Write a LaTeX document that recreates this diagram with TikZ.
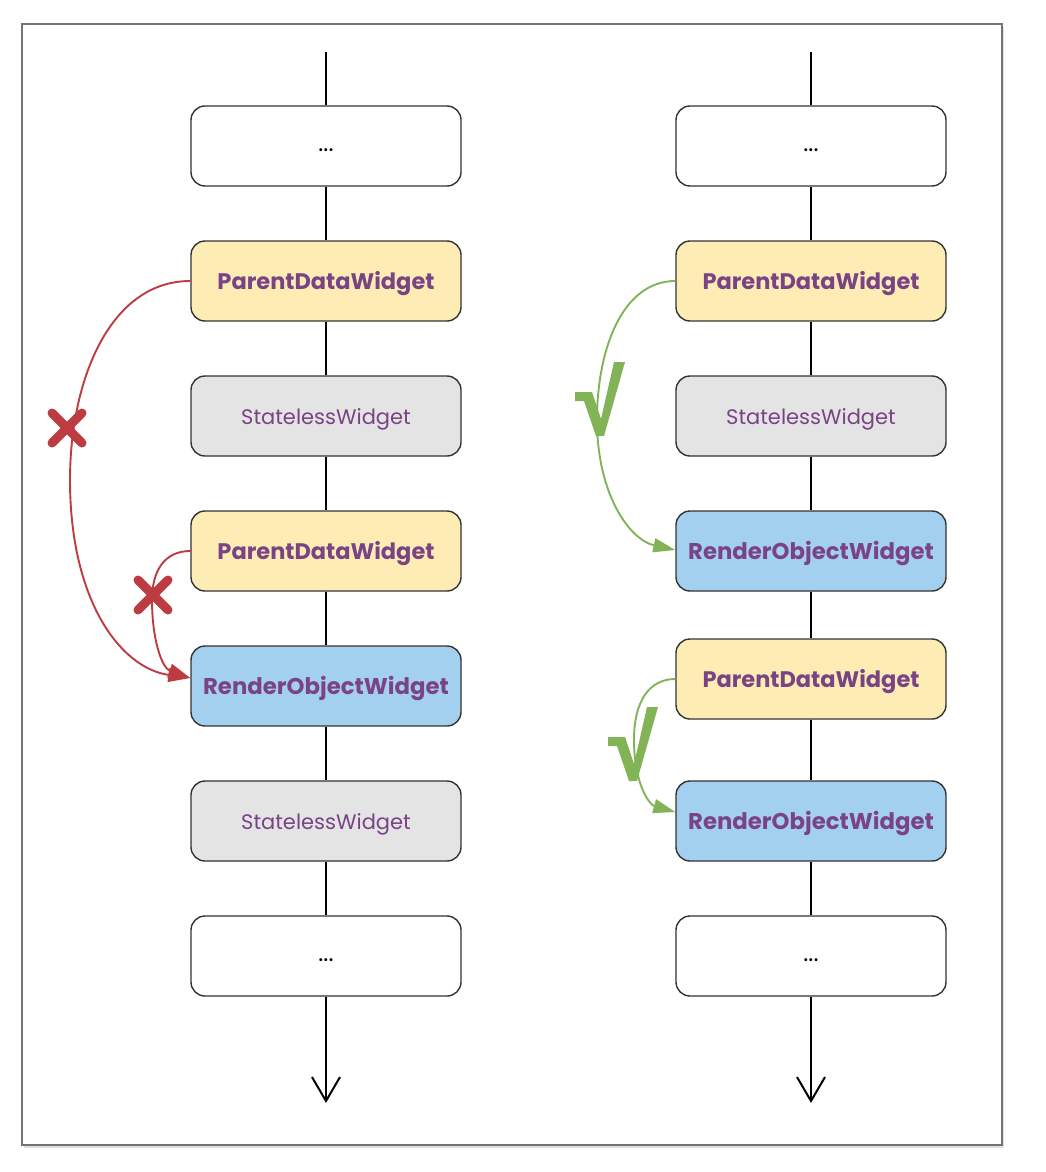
\documentclass[tikz,border=0pt]{standalone}
\usepackage{fontspec}
\setmainfont{Poppins}
\usetikzlibrary{arrows.meta,calc}
\definecolor{yel}{HTML}{FDECB4}
\definecolor{blu}{HTML}{A4D0EF}
\definecolor{gry}{HTML}{E4E4E4}
\definecolor{txt}{HTML}{7A4385}
\definecolor{redc}{HTML}{BD3C41}
\definecolor{grn}{HTML}{83B357}
\definecolor{edge}{HTML}{333333}
\begin{document}
\begin{tikzpicture}[x=1pt,y=-1pt,
  wbox/.style={draw=edge,line width=1.4pt,rounded corners=14pt,minimum width=270pt,minimum height=80pt,inner sep=0pt,text height=18pt,text depth=2pt,font=\fontsize{18}{20}\selectfont},
  pdw/.style={wbox,fill=yel,text=txt,font=\fontsize{22.5}{24}\selectfont\bfseries},
  sw/.style={wbox,fill=gry,text=txt,font=\fontsize{21}{24}\selectfont},
  row/.style={wbox,fill=blu,text=txt,font=\fontsize{22.8}{24}\selectfont\bfseries},
  dots/.style={wbox,fill=white,text height=10pt,text depth=0pt,font=\fontsize{24}{26}\selectfont},
  flow/.style={line width=2pt,black},
  bad/.style={line width=1.9pt,redc,-{Triangle[length=22pt,width=14pt]}},
  good/.style={line width=1.9pt,grn,-{Triangle[length=22pt,width=14pt]}},
  cross/.style={line width=9pt,redc,line cap=round},
  tick/.style={fill=grn}]
\useasboundingbox (0,0) rectangle (1046,1172);
% frame
\fill[black!12] (24,27) rectangle (1004,1148);
\draw[fill=white,draw=black!55,line width=1.2pt] (22,24) rectangle (1002,1145);
% left column
\coordinate (Lt) at (326,52);
\coordinate (Lb) at (326,1103);
\node[dots] (L1) at (326,146) {...};
\node[pdw]  (L2) at (326,281) {ParentDataWidget};
\node[sw]   (L3) at (326,416) {StatelessWidget};
\node[pdw]  (L4) at (326,551) {ParentDataWidget};
\node[row]  (L5) at (326,686) {RenderObjectWidget};
\node[sw]   (L6) at (326,821) {StatelessWidget};
\node[dots] (L7) at (326,956) {...};
% right column
\coordinate (Rt) at (811,52);
\coordinate (Rb) at (811,1103);
\node[dots] (R1) at (811,146) {...};
\node[pdw]  (R2) at (811,281) {ParentDataWidget};
\node[sw]   (R3) at (811,416) {StatelessWidget};
\node[row]  (R4) at (811,551) {RenderObjectWidget};
\node[pdw]  (R5) at (811,679) {ParentDataWidget};
\node[row]  (R6) at (811,821) {RenderObjectWidget};
\node[dots] (R7) at (811,956) {...};
% flow lines
\foreach \c in {L,R}{
  \draw[flow] (\c t) -- (\c 1);
  \draw[flow] (\c 1) -- (\c 2);
  \draw[flow] (\c 2) -- (\c 3);
  \draw[flow] (\c 3) -- (\c 4);
  \draw[flow] (\c 4) -- (\c 5);
  \draw[flow] (\c 5) -- (\c 6);
  \draw[flow] (\c 6) -- (\c 7);
  \draw[flow,-{Straight Barb[length=24pt,width=28pt,line width=2pt]}] (\c 7) -- (\c b);
}
% red curves
\draw[bad] (L2.west) .. controls (110,281) and (70,380) .. (70,480) .. controls (70,600) and (120,668) .. ($(L5.west)+(0,-8)$);
\draw[bad] (L4.west) .. controls (165,551) and (152,570) .. (152,600) .. controls (152,640) and (162,668) .. ($(L5.west)+(0,-8)$);
% green curves
\draw[good] (R2.west) .. controls (622,281) and (597,350) .. (597,420) .. controls (597,495) and (630,540) .. ($(R4.west)+(0,-1)$);
\draw[good] (R5.west) .. controls (650,679) and (634,700) .. (634,740) .. controls (634,785) and (650,805) .. ($(R6.west)+(0,-9)$);
% crosses
\draw[cross] (52,413) -- (82,443) (52,443) -- (82,413);
\draw[cross] (138,580) -- (168,610) (138,610) -- (168,580);
% ticks
\foreach \dx/\dy in {0/0,33/345}{
  \fill[tick,shift={(\dx,\dy)}] (575,392) -- (592,392) -- (601,419) -- (614,362) -- (625,362) -- (604,436) -- (596,436) -- (584,401) -- (575,401) -- cycle;
}
\end{tikzpicture}
\end{document}
